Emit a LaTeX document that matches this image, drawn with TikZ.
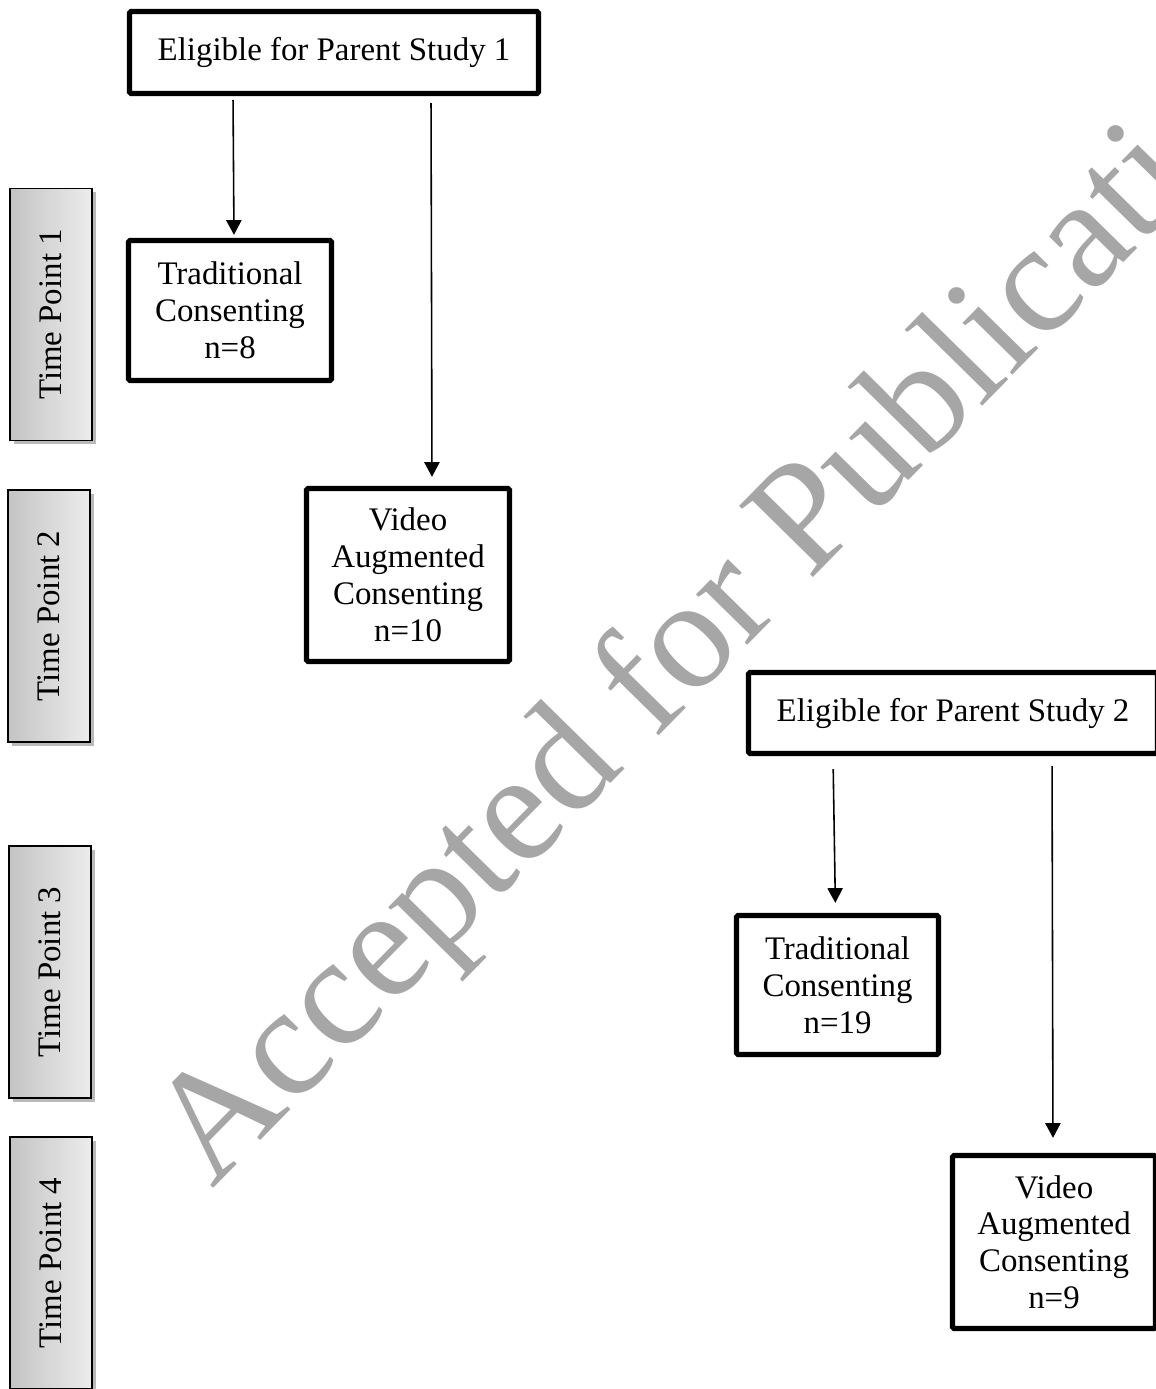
\documentclass[tikz,border=0pt]{standalone}
\usepackage{fontspec}
\setmainfont{Liberation Serif}
\usetikzlibrary{arrows.meta,shadows}
\definecolor{wmgray}{RGB}{166,166,166}
\definecolor{tplight}{RGB}{236,236,236}
\definecolor{tpdark}{RGB}{196,196,196}
\def\pxu{0.38pt}
\begin{document}
\begin{tikzpicture}[x=\pxu,y=-\pxu,
    font=\fontsize{12.5}{14}\selectfont,
    stage/.style={draw,line width=2pt,rounded corners=0.6pt,align=center,inner sep=0pt},
    timept/.style={draw,line width=0.6pt,rotate=90,minimum width=252*\pxu,minimum height=82*\pxu,
        left color=tpdark,right color=tplight,
        drop shadow={shadow xshift=1.4pt,shadow yshift=-1.4pt,opacity=0.45,fill=black!60}},
    arr/.style={line width=0.6pt,-{Triangle[length=5.6pt,width=5.8pt]}}]
    \useasboundingbox (0,0) rectangle (1156,1389);
    \node[text=wmgray,font=\fontsize{59.5}{60}\selectfont,rotate=45.5,anchor=base west,inner sep=0pt] (wm) at (212,1190) {Accepted for Publication};
    \foreach \n/\x/\y in {1/51/314.5,2/49/616,3/50/972,4/51/1263}
        \node[timept] (tp\n) at (\x,\y) {Time Point \n};
    \node[stage,minimum width=409*\pxu,minimum height=82*\pxu] (p1) at (334,52.5) {Eligible for Parent Study 1};
    \node[stage,minimum width=203*\pxu,minimum height=140*\pxu] (trad1) at (230,310.5) {Traditional\\Consenting\\n=8};
    \node[stage,minimum width=203*\pxu,minimum height=173*\pxu] (vid1) at (408,575) {Video\\Augmented\\Consenting\\n=10};
    \node[stage,minimum width=409*\pxu,minimum height=81*\pxu] (p2) at (953,713) {Eligible for Parent Study 2};
    \node[stage,minimum width=202*\pxu,minimum height=139*\pxu] (trad2) at (837.5,985) {Traditional\\Consenting\\n=19};
    \node[stage,minimum width=203*\pxu,minimum height=173*\pxu] (vid2) at (1054,1242) {Video\\Augmented\\Consenting\\n=9};
    \draw[arr,shorten <=4*\pxu,shorten >=3*\pxu] ([xshift=-101*\pxu]p1.south) -- ([xshift=4*\pxu]trad1.north);
    \draw[arr,shorten <=7*\pxu,shorten >=9*\pxu] ([xshift=97*\pxu]p1.south) -- ([xshift=24*\pxu]vid1.north);
    \draw[arr,shorten <=13*\pxu,shorten >=10*\pxu] ([xshift=-120*\pxu]p2.south) -- ([xshift=-2*\pxu]trad2.north);
    \draw[arr,shorten <=10*\pxu,shorten >=15*\pxu] ([xshift=99*\pxu]p2.south) -- ([xshift=-1*\pxu]vid2.north);
\end{tikzpicture}
\end{document}
